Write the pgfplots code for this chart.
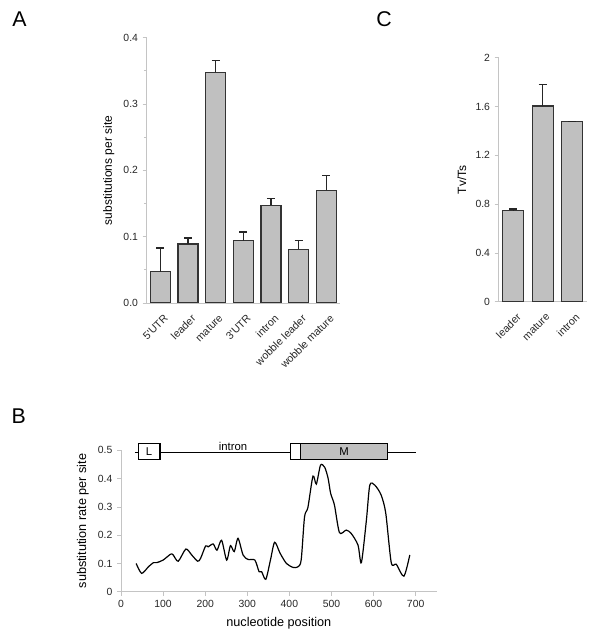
\documentclass[border=0pt]{standalone}
\usepackage{fontspec}
\setmainfont{Liberation Sans}
\usepackage{pgfplots}
\usepackage{pgfplotstable}
\pgfplotsset{compat=1.18}
\definecolor{barfill}{HTML}{C0C0C0}
\definecolor{axgray}{HTML}{C4C4C4}
\pgfplotsset{excel/.style={
  scale only axis,
  axis x line*=bottom, axis y line*=left,
  axis line style={axgray, line width=0.6pt},
  every tick/.style={axgray, line width=0.6pt},
  tick align=outside,
  major tick length=3pt,
  minor tick length=2pt,
  /pgf/number format/assume math mode=true,
  tick label style={font=\fontsize{7.8}{9}\selectfont, color=black!85},
  label style={font=\fontsize{9}{11}\selectfont},
}}
\pgfplotstableread{
x y e
0 0.047 0.036
1 0.089 0.009
2 0.348 0.017
3 0.094 0.013
4 0.147 0.011
5 0.081 0.013
6 0.170 0.022
}\dataA
\pgfplotstableread{
x y e
0 0.746 0.014
1 1.604 0.176
2 1.478 0.0
}\dataC
\pgfplotstableread{
x y
36 0.100
49 0.065
65 0.088
77 0.103
85 0.103
100 0.112
118 0.133
124 0.130
136 0.108
154 0.151
168 0.130
182 0.108
189 0.118
201 0.162
207 0.159
219 0.169
228 0.147
239 0.182
251 0.112
260 0.163
269 0.142
278 0.189
290 0.130
302 0.114
318 0.112
328 0.071
334 0.071
344 0.044
355 0.112
365 0.175
378 0.136
393 0.100
409 0.086
420 0.088
428 0.112
436 0.265
444 0.298
456 0.409
464 0.381
474 0.448
484 0.440
492 0.401
498 0.348
507 0.307
519 0.209
535 0.218
547 0.206
563 0.165
571 0.103
583 0.254
591 0.377
603 0.377
618 0.342
629 0.277
642 0.103
654 0.097
672 0.055
686 0.130
}\dataB
\begin{document}
\begin{tikzpicture}
\useasboundingbox (0,0) rectangle (450pt,483pt);
\node[anchor=base west, inner sep=0pt, font=\fontsize{16}{18}\selectfont] at (9pt,462.75pt) {A};
\node[anchor=base west, inner sep=0pt, font=\fontsize{16}{18}\selectfont] at (282pt,463pt) {C};
\node[anchor=base west, inner sep=0pt, font=\fontsize{16}{18}\selectfont] at (8.5pt,165pt) {B};
% Panel A
\begin{axis}[excel, at={(110pt,255.75pt)}, anchor=south west,
  width=145pt, height=199pt,
  xmin=-0.5, xmax=6.5, ymin=0, ymax=0.4,
  ytick={0,0.1,...,0.4}, minor y tick num=1,
  xtick={0,...,6},
  xticklabels={5\textquotesingle UTR, leader, mature, 3\textquotesingle UTR, intron, wobble leader, wobble mature},
  xticklabel style={rotate=45, anchor=north east, inner sep=0pt, font=\fontsize{8}{9}\selectfont, xshift=-2pt, yshift=-5pt},
  yticklabel style={/pgf/number format/fixed, /pgf/number format/fixed zerofill, /pgf/number format/precision=1},
  major x tick style={draw=none},
  ylabel={substitutions per site}]
\addplot[ybar, bar width=15pt, fill=barfill, draw=black!80, line width=0.9pt,
  error bars/.cd, y dir=plus, y explicit,
  error bar style={black!85, line width=0.9pt},
  error mark options={rotate=90, mark size=3pt, line width=0.9pt, black!85}]
  table[x=x, y=y, y error=e] {\dataA};
\end{axis}
% Panel C
\begin{axis}[excel, at={(374pt,256.7pt)}, anchor=south west,
  width=66pt, height=183pt,
  xmin=-0.5, xmax=2.5, ymin=0, ymax=2,
  ytick={0,0.4,...,2.01},
  xtick={0,1,2},
  xticklabels={leader, mature, intron},
  xticklabel style={rotate=45, anchor=north east, inner sep=0pt, font=\fontsize{8}{9}\selectfont, xshift=-2pt, yshift=-5pt},
  major x tick style={draw=none},
  ylabel={Tv/Ts}]
\addplot[ybar, bar width=15.75pt, fill=barfill, draw=black!80, line width=0.9pt,
  error bars/.cd, y dir=plus, y explicit,
  error bar style={black!85, line width=0.9pt},
  error mark options={rotate=90, mark size=3pt, line width=0.9pt, black!85}]
  table[x=x, y=y, y error=e] {\dataC};
\end{axis}
% Panel B
\begin{axis}[excel, at={(90.75pt,39.2pt)}, anchor=south west,
  width=236.8pt, height=106pt,
  xmin=0, xmax=750, ymin=0, ymax=0.5,
  xtick={0,100,...,700}, ytick={0,0.1,...,0.51},
  label style={font=\fontsize{9.5}{11}\selectfont},
  xlabel={nucleotide position},
  ylabel={substitution rate per site},
  clip=false]
\addplot[smooth, tension=0.45, black, line width=0.9pt] table[x=x, y=y] {\dataB};
\draw[black, line width=0.8pt] (axis cs:33,0.494) -- (axis cs:701,0.494);
\draw[black, fill=white, line width=0.8pt] (axis cs:41,0.467) rectangle (axis cs:92.6,0.525);
\node[font=\fontsize{8.5}{10}\selectfont] at (axis cs:66.8,0.496) {L};
\draw[black, fill=white, line width=0.8pt] (axis cs:403,0.467) rectangle (axis cs:427,0.525);
\draw[black, fill=barfill, line width=0.8pt] (axis cs:427,0.467) rectangle (axis cs:633,0.525);
\node[font=\fontsize{8.5}{10}\selectfont] at (axis cs:530,0.496) {M};
\node[anchor=south, inner sep=1pt, font=\fontsize{8.5}{10}\selectfont] at (axis cs:266,0.494) {intron};
\end{axis}
\end{tikzpicture}
\end{document}
